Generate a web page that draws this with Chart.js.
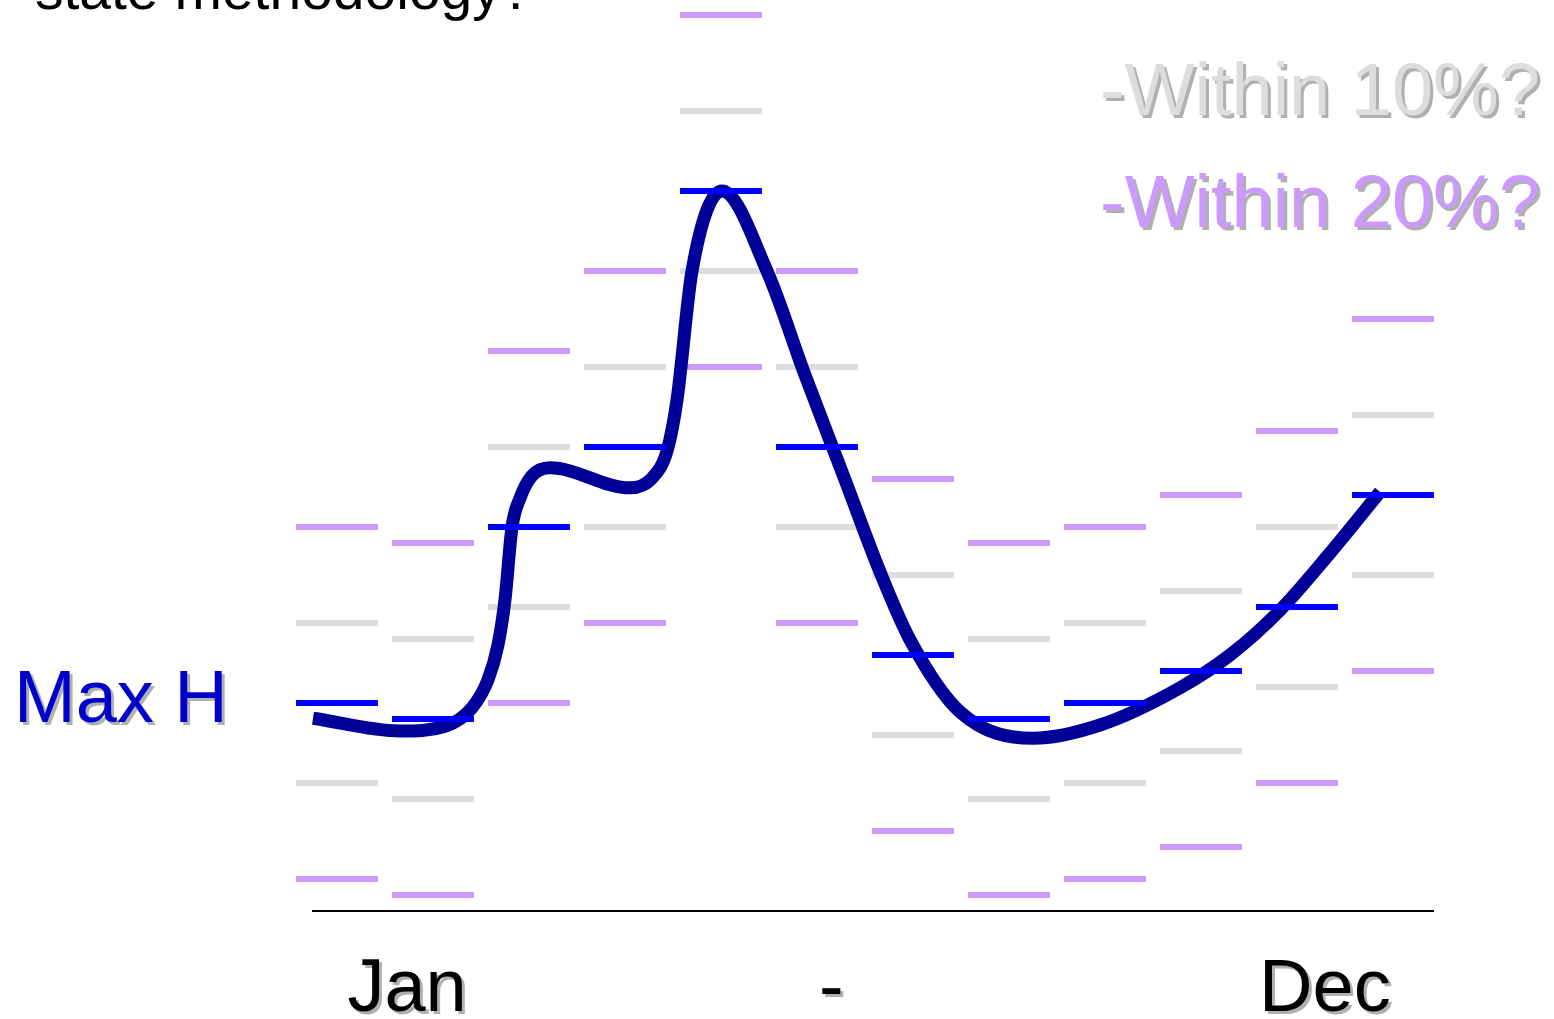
<!DOCTYPE html>
<html>
<head>
<meta charset="utf-8">
<script src="https://cdn.jsdelivr.net/npm/chart.js@4.4.0/dist/chart.umd.min.js"></script>
<style>
    body { margin: 0; background: #fff; }
    #wrap { width: 1554px; height: 1019px; }
</style>
</head>
<body>
<div id="wrap"><canvas id="max-h-chart" width="1554" height="1019"></canvas></div>
<script>
const months = ['Jan', 'Feb', 'Mar', 'Apr', 'May', 'Jun', 'Jul', 'Aug', 'Sep', 'Oct', 'Nov', 'Dec']
const maxH = [26, 24, 48, 58, 90, 58, 32, 24, 26, 30, 38, 52]
const high10 = [36, 34, 58, 68, 100, 68, 42, 34, 36, 40, 48, 62]
const low10 = [16, 14, 38, 48, 80, 48, 22, 14, 16, 20, 28, 42]
const high20 = [48, 46, 70, 80, 112, 80, 54, 46, 48, 52, 60, 74]
const low20 = [4, 2, 26, 36, 68, 36, 10, 2, 4, 8, 16, 30]

// smooth Max H curve, x in month units (1 = Jan)
const curveX = [0.75, 1.656, 2.125, 2.406, 2.573, 2.677, 2.75, 2.823, 2.906, 3.031, 3.219, 4.052,
    4.281, 4.44, 4.542, 4.698, 5.01, 5.479, 5.875, 6.292, 6.656, 6.969, 7.49, 8.25, 8.948,
    9.781, 10.302, 10.823, 11.344, 11.865]
const curveY = [24.1, 22.5, 23.1, 25.4, 28.9, 33.25, 38.9, 48.0, 51.6, 54.4, 55.4, 52.9,
    54.1, 57.6, 63.9, 80.0, 90.0, 80.0, 67.0, 53.9, 42.4, 33.9, 24.9, 21.6, 23.25,
    27.9, 32.0, 37.6, 44.75, 52.4]

const axisLabels = ['Jan', '-', 'Dec']
const title = 'state methodology?'
const legend10 = '-Within 10%?'
const legend20 = '-Within 20%?'
const seriesLabel = 'Max H'

function points(values) {
    return values.map((v, i) => ({ x: i + 1, y: v }))
}

function dashSet(label, values, color, order) {
    return {
        label: label,
        data: points(values),
        showLine: false,
        pointStyle: 'line',
        pointRadius: 41,
        pointHoverRadius: 41,
        pointBorderWidth: 6,
        pointBorderColor: color,
        borderColor: color,
        order: order,
        clip: false
    }
}

const textPlugin = {
    id: 'texts',
    afterDraw(chart) {
        const ctx = chart.ctx
        const x = chart.scales.x
        const font = '"Liberation Sans", Arial, sans-serif'

        function shadowText(text, px, py, color, size, align) {
            ctx.save()
            ctx.font = size + 'px ' + font
            ctx.textAlign = align || 'left'
            ctx.textBaseline = 'alphabetic'
            ctx.shadowColor = 'rgba(150,150,150,0.75)'
            ctx.shadowOffsetX = 3
            ctx.shadowOffsetY = 3
            ctx.fillStyle = color
            ctx.fillText(text, px, py)
            ctx.restore()
        }

        ctx.save()
        ctx.font = '57px ' + font
        ctx.fillStyle = '#000'
        ctx.textBaseline = 'alphabetic'
        ctx.fillText(title, 35, 9)
        ctx.restore()

        shadowText(legend10, 1100, 115, '#DDDDDD', 74)
        shadowText(legend20, 1100, 227, '#CC99FF', 74)
        shadowText(seriesLabel, 14, 722, '#0000CC', 74)

        const labelAt = [1.73, 6.15, 11.29]
        axisLabels.forEach((t, i) => {
            shadowText(t, x.getPixelForValue(labelAt[i]), 1011, '#000', 74, 'center')
        })
    }
}

new Chart(document.querySelector('#max-h-chart').getContext('2d'), {
    type: 'scatter',
    data: {
        datasets: [
            dashSet('Max H', maxH, '#0000FF', 0),
            {
                label: 'Max H curve',
                data: curveX.map((v, i) => ({ x: v, y: curveY[i] })),
                showLine: true,
                borderColor: '#000099',
                borderWidth: 13,
                borderCapStyle: 'butt',
                borderJoinStyle: 'round',
                cubicInterpolationMode: 'monotone',
                pointRadius: 0,
                pointHoverRadius: 0,
                order: 1,
                clip: false
            },
            dashSet('+10%', high10, '#DDDDDD', 2),
            dashSet('-10%', low10, '#DDDDDD', 2),
            dashSet('+20%', high20, '#CC99FF', 2),
            dashSet('-20%', low20, '#CC99FF', 2)
        ]
    },
    options: {
        responsive: false,
        animation: false,
        events: [],
        layout: { autoPadding: false, padding: { left: 313, right: 121, top: 0, bottom: 108 } },
        plugins: {
            legend: { display: false },
            tooltip: { enabled: false }
        },
        scales: {
            x: {
                type: 'linear',
                min: 0.75,
                max: 12.4167,
                grid: { display: false, drawTicks: false },
                ticks: { display: false },
                border: { display: true, color: '#000', width: 2 }
            },
            y: {
                display: false,
                min: 0,
                max: 113.875
            }
        }
    },
    plugins: [textPlugin]
});
</script>
</body>
</html>
